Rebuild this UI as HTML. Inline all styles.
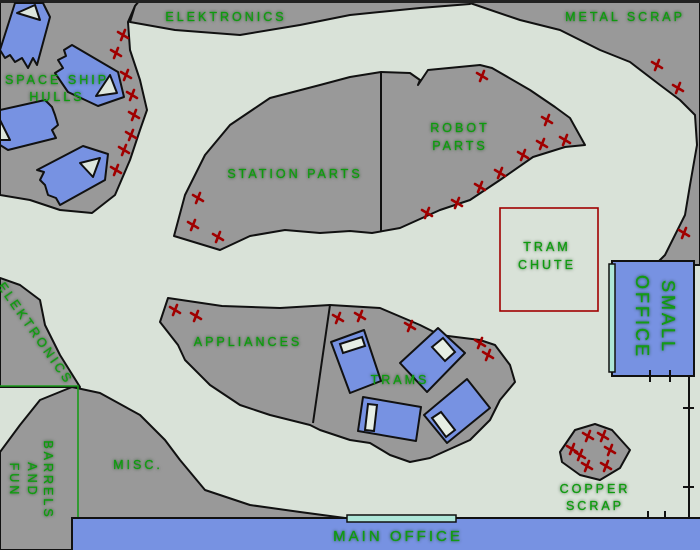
<!DOCTYPE html>
<html><head><meta charset="utf-8"><style>
html,body{margin:0;padding:0;background:#d9e2d8;}
svg{display:block}
text{font-family:"Liberation Sans",sans-serif;fill:#129a12;letter-spacing:3px;filter:url(#glow);stroke:#129a12;stroke-width:0.3}
</style></head><body>
<svg width="700" height="550" viewBox="0 0 700 550" xmlns="http://www.w3.org/2000/svg">
<defs>
<filter id="glow" x="-20%" y="-50%" width="140%" height="200%">
<feGaussianBlur in="SourceAlpha" stdDeviation="1.5" result="b"/>
<feFlood flood-color="#0a3a0a" flood-opacity="0.7"/><feComposite in2="b" operator="in" result="s"/>
<feMerge><feMergeNode in="s"/><feMergeNode in="SourceGraphic"/></feMerge>
</filter>
<g id="x"><path d="M-5,-3 L5,3 M2,-5 L-2,5" stroke="#a00000" stroke-width="2.6" stroke-linecap="round"/></g>
</defs>
<rect width="700" height="550" fill="#d9e2d8"/>
<g fill="#999" stroke="#111" stroke-width="2" stroke-linejoin="round">
<path d="M0,0 L140,0 L135,6 L128,22 L130,50 L140,80 L147,110 L140,130 L130,160 L115,195 L92,213 L60,210 L30,200 L0,195 Z"/>
<path d="M140,0 L470,0 L470,4 L420,8 L350,15 L300,25 L240,35 L175,30 L130,22 L135,6 Z"/>
<path d="M470,3 L520,20 L560,30 L600,50 L630,62 L660,85 L680,100 L695,115 L697,145 L690,185 L685,215 L665,255 L655,265 L700,265 L700,0 L470,0 Z"/>
<path d="M174,236 L185,195 L205,155 L230,125 L270,98 L320,85 L350,77 L381,72 L410,73 L420,80 L418,85 L428,70 L480,65 L492,68 L530,90 L555,107 L570,118 L585,145 L565,147 L533,157 L500,180 L470,200 L440,210 L400,228 L372,233 L350,231 L320,233 L285,230 L250,236 L220,250 Z"/>
<path d="M381,72 L381,232" fill="none"/>
<path d="M168,298 L222,306 L280,308 L330,305 L380,308 L420,325 L440,335 L480,340 L495,345 L510,365 L515,382 L500,400 L490,420 L470,440 L430,458 L410,462 L390,455 L370,443 L350,440 L320,430 L310,425 L270,415 L240,405 L210,385 L185,360 L178,345 L160,322 Z"/>
<path d="M330,305 L313,423" fill="none"/>
<path d="M0,278 L20,285 L40,300 L45,325 L60,355 L80,387 L0,387 Z"/>
<path d="M0,452 L20,425 L40,400 L72,387 L100,393 L140,415 L165,440 L180,460 L205,490 L250,505 L300,512 L345,518 L72,518 L72,550 L0,550 Z"/>
<path d="M560,452 L575,430 L595,424 L612,430 L630,450 L620,468 L600,480 L580,475 L562,462 Z"/>
</g>
<rect x="0" y="0" width="700" height="3" fill="#222"/>
<path d="M0,386 L78,386 L78,518" fill="none" stroke="#1a9a1a" stroke-width="1.6"/>
<g fill="#7792e2" stroke="#111" stroke-width="2" stroke-linejoin="round">
<path d="M15,3 L43,3 L50,17 L37,65 L33,58 L28,68 L22,58 L15,62 L10,55 L5,58 L0,50 Z"/>
<path d="M72,45 L118,72 L124,97 L98,106 L68,92 L55,73 L63,68 L58,60 L66,56 L64,50 Z"/>
<path d="M0,110 L45,100 L52,107 L55,115 L58,125 L52,130 L56,138 L8,150 L0,145 Z"/>
<path d="M83,146 L108,154 L105,180 L60,205 L56,198 L48,195 L45,185 L40,180 L44,172 L37,170 Z"/>
</g>
<g fill="#dde6dd" stroke="#111" stroke-width="2" stroke-linejoin="round">
<path d="M17,13 L40,20 L35,5 Z"/>
<path d="M96,96 L117,93 L110,75 Z"/>
<path d="M0,120 L10,140 L0,140 Z"/>
<path d="M80,163 L100,158 L93,177 Z"/>
</g>
<g fill="#7792e2" stroke="#111" stroke-width="2" stroke-linejoin="round">
<path d="M331,342 L364,330 L381,381 L350,393 Z"/>
<path d="M400,363 L438,328 L465,353 L427,392 Z"/>
<path d="M363,397 L421,407 L416,441 L358,431 Z"/>
<path d="M424,415 L467,379 L490,408 L447,443 Z"/>
</g>
<g fill="#e6eee4" stroke="#111" stroke-width="2">
<path d="M340,344 L362,337 L365,346 L343,353 Z"/>
<path d="M432,347 L443,338 L455,352 L445,361 Z"/>
<path d="M368,404 L377,405 L374,431 L365,430 Z"/>
<path d="M432,418 L441,412 L455,430 L446,437 Z"/>
</g>
<rect x="500" y="208" width="98" height="103" fill="none" stroke="#a00000" stroke-width="1.6"/>
<rect x="612" y="261" width="82" height="115" fill="#7792e2" stroke="#111" stroke-width="2"/>
<rect x="609" y="264" width="6" height="108" fill="#aee6d8" stroke="#111" stroke-width="1.5"/>
<path d="M689,376 L689,518 M683,408 L694,408 M683,487 L694,487 M650,370 L650,382 M670,370 L670,382 M648,511 L648,525 M665,511 L665,525" stroke="#111" stroke-width="2" fill="none"/>
<rect x="72" y="518" width="630" height="34" fill="#7792e2" stroke="#111" stroke-width="2"/>
<rect x="347" y="515" width="109" height="7" fill="#aee6d8" stroke="#111" stroke-width="1.5"/>
<g>
<use href="#x" x="123" y="35"/><use href="#x" x="116" y="53"/><use href="#x" x="126" y="75"/><use href="#x" x="132" y="95"/><use href="#x" x="134" y="115"/><use href="#x" x="131" y="135"/><use href="#x" x="124" y="150"/><use href="#x" x="116" y="170"/>
<use href="#x" x="198" y="198"/><use href="#x" x="193" y="225"/><use href="#x" x="218" y="237"/>
<use href="#x" x="482" y="76"/><use href="#x" x="547" y="120"/><use href="#x" x="542" y="144"/><use href="#x" x="565" y="140"/><use href="#x" x="523" y="155"/><use href="#x" x="500" y="173"/><use href="#x" x="480" y="187"/><use href="#x" x="457" y="203"/><use href="#x" x="427" y="213"/>
<use href="#x" x="657" y="65"/><use href="#x" x="678" y="88"/><use href="#x" x="684" y="233"/>
<use href="#x" x="175" y="310"/><use href="#x" x="196" y="316"/>
<use href="#x" x="338" y="318"/><use href="#x" x="360" y="316"/><use href="#x" x="410" y="326"/><use href="#x" x="480" y="343"/><use href="#x" x="488" y="355"/>
<use href="#x" x="588" y="436"/><use href="#x" x="603" y="436"/><use href="#x" x="572" y="449"/><use href="#x" x="580" y="455"/><use href="#x" x="610" y="450"/><use href="#x" x="587" y="466"/><use href="#x" x="606" y="466"/>
</g>
<g font-size="12.5" text-anchor="middle">
<text x="226" y="21">ELEKTRONICS</text>
<text x="625" y="21">METAL SCRAP</text>
<text x="57" y="84">SPACE SHIP</text>
<text x="57" y="101">HULLS</text>
<text x="295" y="178">STATION PARTS</text>
<text x="460" y="132">ROBOT</text>
<text x="460" y="150">PARTS</text>
<text x="547" y="251">TRAM</text>
<text x="547" y="269">CHUTE</text>
<text x="248" y="346">APPLIANCES</text>
<text x="400" y="384">TRAMS</text>
<text x="138" y="469">MISC.</text>
<text x="595" y="493">COPPER</text>
<text x="595" y="510">SCRAP</text>
<text x="398" y="541" font-size="15" letter-spacing="4">MAIN OFFICE</text>
<text transform="translate(32,336) rotate(55)">ELEKTRONICS</text>
<text transform="translate(44,480) rotate(90)">BARRELS</text>
<text transform="translate(28,480) rotate(90)">AND</text>
<text transform="translate(10,480) rotate(90)">FUN</text>
<text transform="translate(662,317) rotate(90)" font-size="18" letter-spacing="5">SMALL</text>
<text transform="translate(636,317) rotate(90)" font-size="18" letter-spacing="5">OFFICE</text>
</g>
</svg>
</body></html>
